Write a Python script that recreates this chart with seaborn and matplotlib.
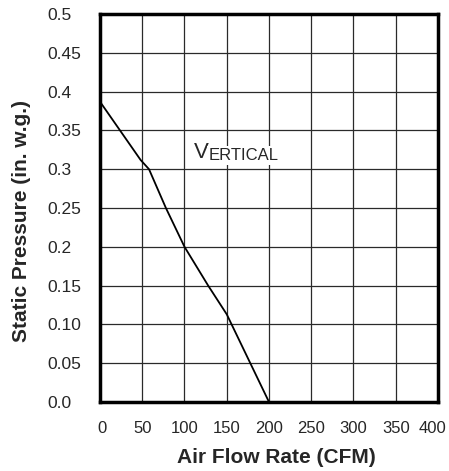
import seaborn as sns
import matplotlib.pyplot as plt
import matplotlib.transforms as mtransforms
import pandas as pd

# curve
flow = [0, 48, 58, 78, 100, 128, 150, 200]
pressure = [0.387, 0.312, 0.30, 0.25, 0.20, 0.15, 0.113, 0.0]

xticks = [0, 50, 100, 150, 200, 250, 300, 350, 400]
yticks = [0.0, 0.05, 0.10, 0.15, 0.2, 0.25, 0.3, 0.35, 0.4, 0.45, 0.5]
ylabels = ["0.0", "0.05", "0.10", "0.15", "0.2", "0.25", "0.3", "0.35", "0.4", "0.45", "0.5"]

df = pd.DataFrame({"flow": flow, "pressure": pressure})

sns.set_style("white")
plt.rcParams['font.family'] = ['Liberation Sans', 'DejaVu Sans']

fig = plt.figure(figsize=(4.49, 4.71), dpi=100)
ax = fig.add_axes([0.2227, 0.1465, 0.7528, 0.8238])

ax.set_xlim(0, 400)
ax.set_ylim(0, 0.5)
ax.set_xticks(xticks)
ax.set_yticks(yticks)
ax.set_xticklabels([str(v) for v in xticks], fontsize=12)
ax.set_yticklabels(ylabels, fontsize=12.5, ha="left")
ax.tick_params(axis="y", length=0, pad=38)
ax.tick_params(axis="x", length=0, pad=14)
ax.grid(True, color="#2a2a2a", linewidth=0.9)
ax.set_axisbelow(True)

# nudge the end labels inwards like the original
xl = ax.get_xticklabels()
xl[0].set_transform(xl[0].get_transform() + mtransforms.ScaledTranslation(0.02, 0, fig.dpi_scale_trans))
xl[-1].set_transform(xl[-1].get_transform() + mtransforms.ScaledTranslation(-0.05, 0, fig.dpi_scale_trans))

sns.lineplot(data=df, x="flow", y="pressure", color="black", linewidth=1.3, ax=ax)

for s in ax.spines.values():
    s.set_visible(True)
    s.set_color("black")
    s.set_linewidth(2.5)

ax.set_xlabel("Air Flow Rate (CFM)", fontsize=15, fontweight="bold")
ax.set_ylabel("Static Pressure (in. w.g.)", fontsize=15, fontweight="bold")
ax.xaxis.label.set_va("center")
ax.yaxis.label.set_va("center")
ax.xaxis.set_label_coords(0.521, -0.144)
ax.yaxis.set_label_coords(-0.231, 0.466)

t = ax.text(111, 0.322, "V", fontsize=16, va="center", ha="left",
            bbox=dict(facecolor="white", edgecolor="none", pad=1.5))
ax.annotate("ERTICAL", xy=(1, 0), xycoords=t, xytext=(0, 0), textcoords="offset points",
            fontsize=12, va="bottom", ha="left",
            bbox=dict(facecolor="white", edgecolor="none", pad=1.5))

fig.savefig("out.png", dpi=100)
